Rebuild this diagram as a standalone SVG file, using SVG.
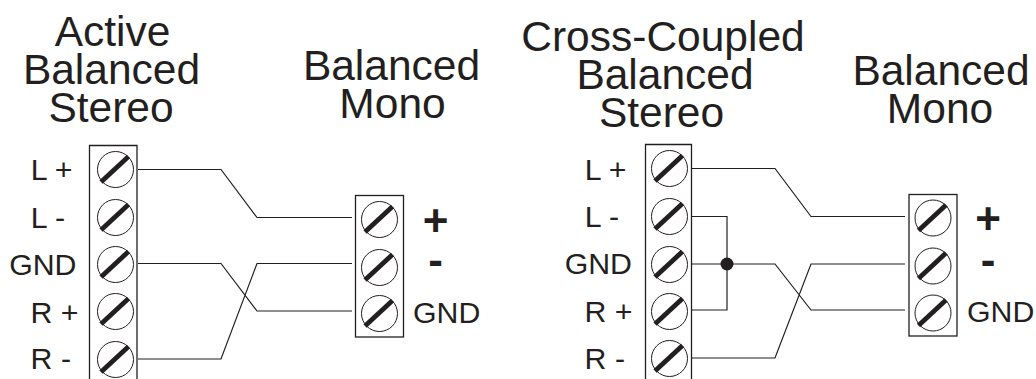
<svg xmlns="http://www.w3.org/2000/svg" width="1036" height="379" viewBox="0 0 1036 379">
<style>
text{font-family:"Liberation Sans",Arial,sans-serif;fill:#231f20}
.t{font-size:42.500px;text-anchor:middle}
.l{font-size:30.300px;text-anchor:end}
.g{font-size:30.300px;text-anchor:start}
.p{font-size:44px;font-weight:bold;text-anchor:middle}
.b{fill:#fff;stroke:#231f20;stroke-width:1.3}
.c{fill:none;stroke:#231f20;stroke-width:1}
.s{stroke:#231f20;stroke-width:4.800;fill:none}
.w{fill:none;stroke:#231f20;stroke-width:1.2}
</style>
<defs><g id="sc"><circle class="c" r="18"/><line class="s" x1="-14.500" y1="12.500" x2="13" y2="-13"/></g></defs>
<g id="title-active"><text class="t" x="112.500" y="45.500">Active</text><text class="t" x="111.500" y="83.500">Balanced</text><text class="t" x="111" y="121.500">Stereo</text></g>
<g id="title-mono1"><text class="t" x="391.500" y="79.500">Balanced</text><text class="t" x="392.500" y="117.500">Mono</text></g>
<g id="title-cross"><text class="t" x="663" y="50.500">Cross-Coupled</text><text class="t" x="665" y="88.500">Balanced</text><text class="t" x="661.500" y="126.500">Stereo</text></g>
<g id="title-mono2"><text class="t" x="941" y="84.500">Balanced</text><text class="t" x="940" y="122.500">Mono</text></g>
<g id="connectors">
<path class="w" d="M138 169.500H221L257 217.500H352M138 263.500H221L257 311H352M138 359H221L257 263.500H352"/>
<path class="w" d="M692 168.500H775L811 216.500H905M692 216.500H727V310H692M692 264H775L811 310H905M692 358H775L811 264H905"/>
<circle cx="727" cy="264" r="6.500" fill="#231f20"/>
</g>
<g id="block-active"><path class="b" d="M89.500 379V145.500H137V379"/>
<use href="#sc" x="115.500" y="169.500"/><use href="#sc" x="115.500" y="217.500"/><use href="#sc" x="115.500" y="264.500"/><use href="#sc" x="115.500" y="311.500"/><use href="#sc" x="115.500" y="359.500"/>
<text class="l" x="72.500" y="180">L +</text><text class="l" x="65" y="228">L -</text><text class="l" x="76.500" y="275">GND</text><text class="l" x="78.500" y="322.500">R +</text><text class="l" x="71" y="369">R -</text></g>
<g id="block-mono1"><rect class="b" x="355.500" y="195.500" width="48" height="141.500"/>
<use href="#sc" x="379.500" y="219.500"/><use href="#sc" x="379.500" y="267.500"/><use href="#sc" x="379.500" y="313.500"/>
<text class="p" x="435.500" y="236">+</text><text class="p" x="435.500" y="275">-</text><text class="g" x="413" y="322.500">GND</text></g>
<g id="block-cross"><path class="b" d="M645.500 379V144.500H691.500V379"/>
<use href="#sc" x="669.500" y="168.500"/><use href="#sc" x="669.500" y="216.500"/><use href="#sc" x="669.500" y="264.500"/><use href="#sc" x="669.500" y="311.500"/><use href="#sc" x="669.500" y="358.500"/>
<text class="l" x="626.500" y="179.500">L +</text><text class="l" x="619" y="226.500">L -</text><text class="l" x="632" y="273.500">GND</text><text class="l" x="632.500" y="321.500">R +</text><text class="l" x="625" y="368.500">R -</text></g>
<g id="block-mono2"><rect class="b" x="909" y="194.500" width="48" height="141.500"/>
<use href="#sc" x="933" y="218"/><use href="#sc" x="933" y="266"/><use href="#sc" x="933" y="313"/>
<text class="p" x="988" y="234">+</text><text class="p" x="988" y="275">-</text><text class="g" x="967" y="321.500">GND</text></g>
</svg>
